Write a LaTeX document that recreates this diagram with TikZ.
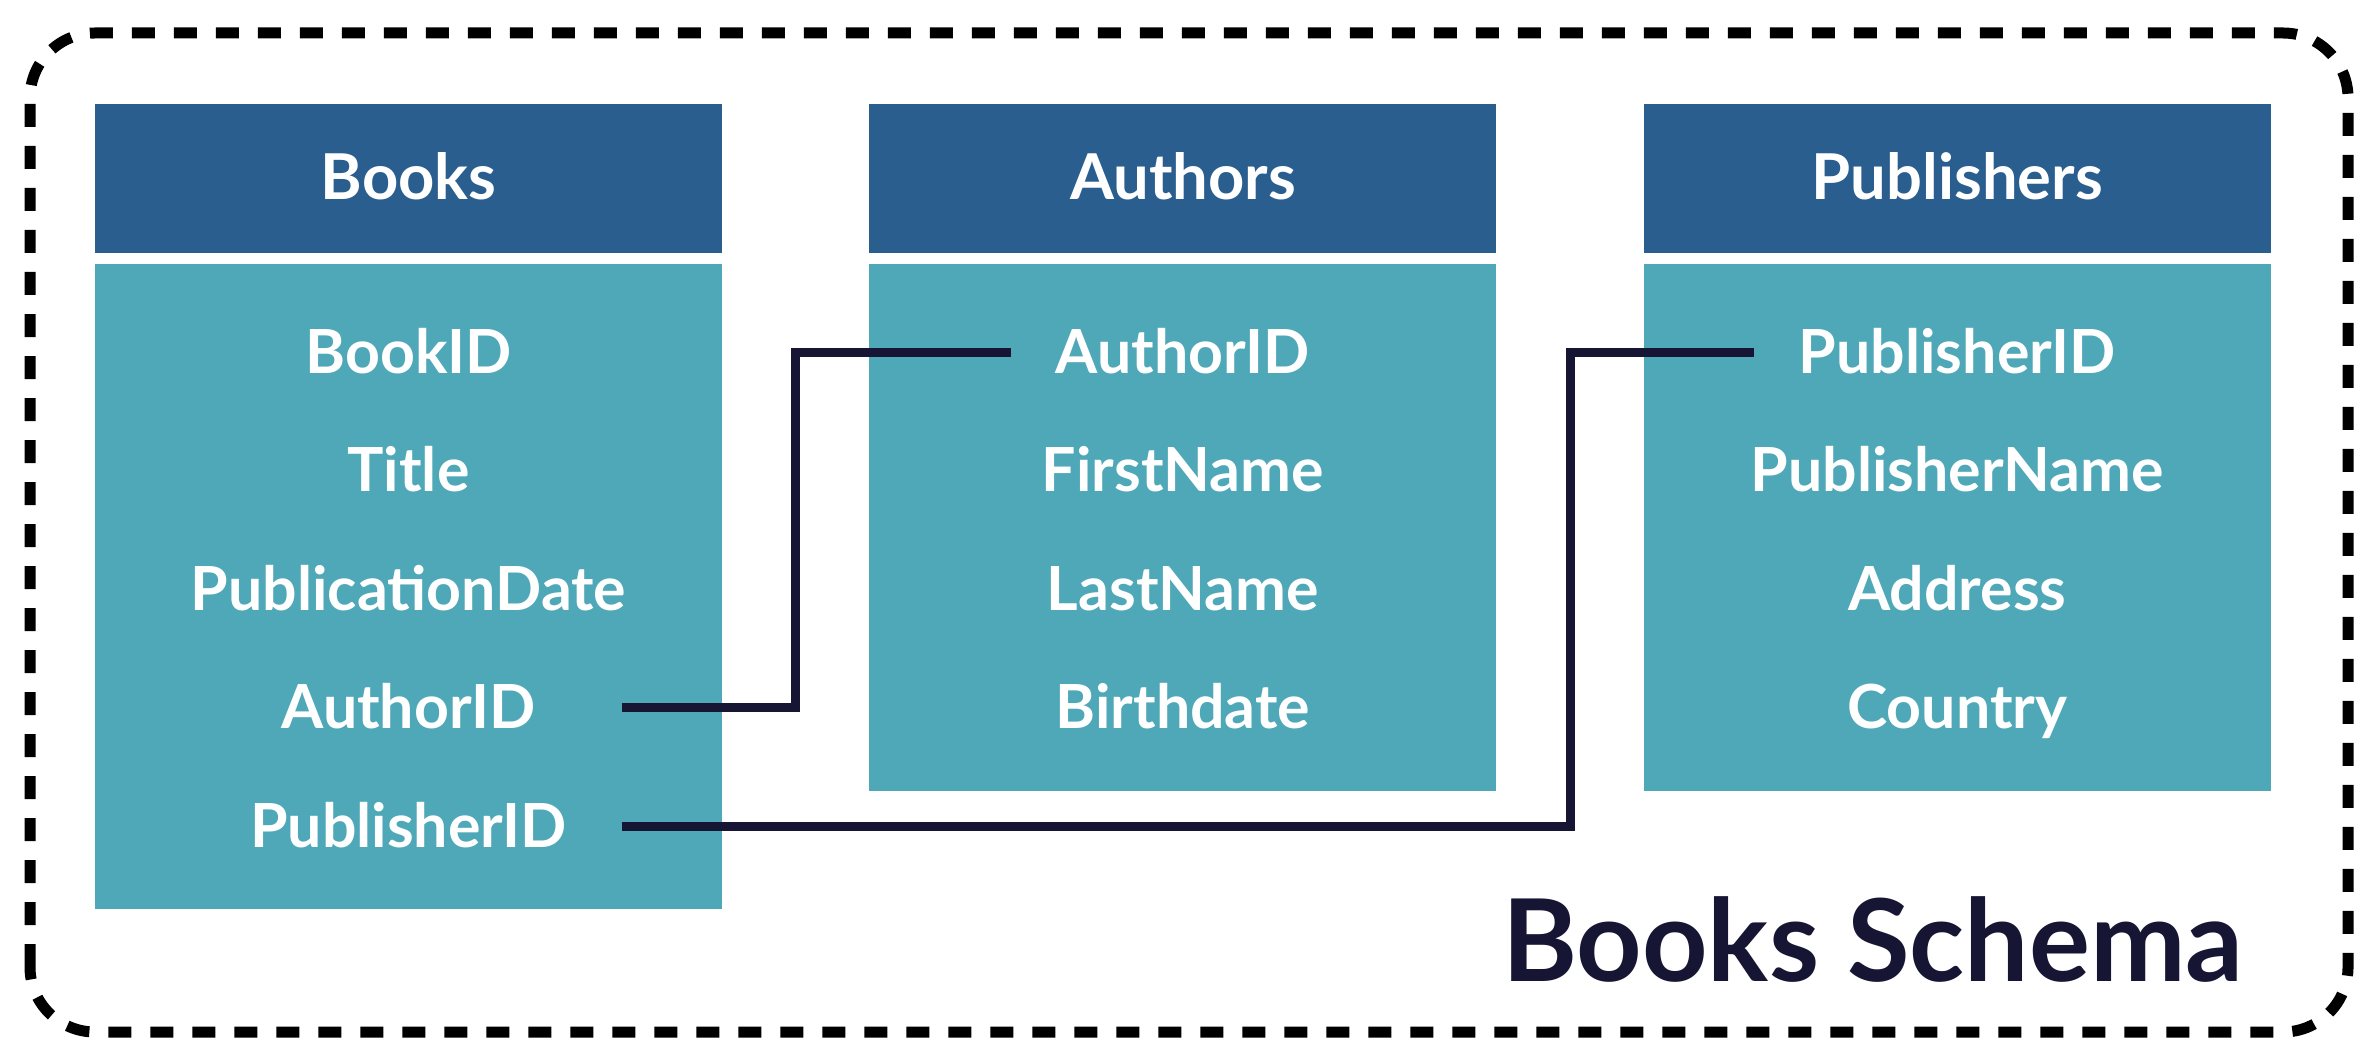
\documentclass[tikz,border=0pt]{standalone}
\usepackage{fontspec}
\setmainfont{Lato}
\usetikzlibrary{positioning,calc}
\definecolor{headblue}{RGB}{41,94,143}
\definecolor{bodyteal}{RGB}{78,168,184}
\definecolor{linknavy}{RGB}{22,22,52}
\begin{document}
\begin{tikzpicture}[
    node distance=0cm and 1.46cm,
    header/.style={rectangle, fill=headblue, minimum width=6.27cm, minimum height=1.49cm, inner sep=0pt, text height=0.43cm, text depth=0pt, text=white, font=\bfseries\fontsize{18}{21}\selectfont},
    tablebody/.style={rectangle, fill=bodyteal, minimum width=6.27cm, inner sep=0pt},
    field/.style={text=white, inner sep=0pt, minimum height=1.17cm, text height=0.42cm, text depth=0pt, font=\bfseries\fontsize{17.3}{20}\selectfont},
    link/.style={line width=0.09cm, linknavy},
    frame/.style={line width=0.11cm, dash pattern=on 0.23cm off 0.19cm, rounded corners=0.65cm},
    title/.style={text=linknavy, inner sep=0pt, font=\bfseries\fontsize{32.5}{38}\selectfont}
]
    \fill[white] (0,0) rectangle (23.74,10.62);
    \useasboundingbox (0,0) rectangle (23.74,10.62);

    % Schema frame
    \draw[frame] (0.30,0.30) rectangle (23.48,10.29);

    % Table headers
    \node[header] (books) at (4.085,8.835) {Books};
    \node[header, right=of books] (authors) {Authors};
    \node[header, right=of authors] (publishers) {Publishers};

    % Table bodies
    \node[tablebody, minimum height=6.45cm, below=0.1cm of books] (books-body) {};
    \node[tablebody, minimum height=5.27cm, below=0.1cm of authors] (authors-body) {};
    \node[tablebody, minimum height=5.27cm, below=0.1cm of publishers] (publishers-body) {};

    % Books fields
    \node[field, below=0.295cm of books-body.north] (b-bookid) {BookID};
    \node[field, below=of b-bookid] (b-title) {Title};
    \node[field, below=of b-title] (b-pubdate) {PublicationDate};
    \node[field, below=of b-pubdate] (b-authorid) {AuthorID};
    \node[field, below=of b-authorid] (b-publisherid) {PublisherID};

    % Authors fields
    \node[field, below=0.295cm of authors-body.north] (a-authorid) {AuthorID};
    \node[field, below=of a-authorid] (a-first) {FirstName};
    \node[field, below=of a-first] (a-last) {LastName};
    \node[field, below=of a-last] (a-birth) {Birthdate};

    % Publishers fields
    \node[field, below=0.295cm of publishers-body.north] (p-publisherid) {PublisherID};
    \node[field, below=of p-publisherid] (p-name) {PublisherName};
    \node[field, below=of p-name] (p-address) {Address};
    \node[field, below=of p-address] (p-country) {Country};

    % Links
    \coordinate (link-start) at ($(books-body.east)+(-1.01,0)$);
    \coordinate (knee-a) at ($(books-body.east)!0.5!(authors-body.west)$);
    \coordinate (knee-p) at ($(authors-body.east)!0.5!(publishers-body.west)$);
    \draw[link] (link-start |- b-authorid) -| (knee-a |- a-authorid) -- ($(a-authorid.west)+(-0.44,0)$);
    \draw[link] (link-start |- b-publisherid) -| (knee-p |- p-publisherid) -- ($(p-publisherid.west)+(-0.44,0)$);

    % Title
    \node[title, anchor=base east] (schema) at (22.44,0.81) {Books Schema};
\end{tikzpicture}
\end{document}
